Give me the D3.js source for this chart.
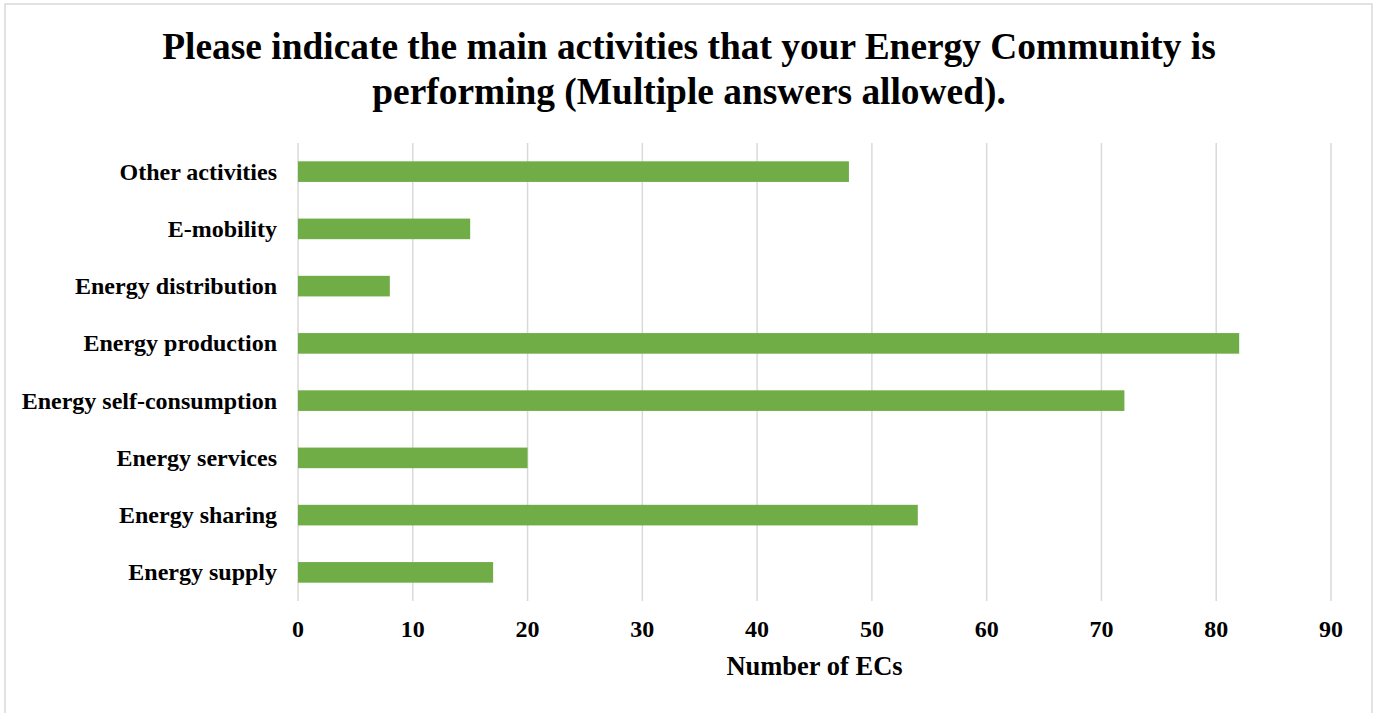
<!DOCTYPE html>
<html>
<head>
<meta charset="utf-8">
<script src="https://cdn.jsdelivr.net/npm/d3@7"></script>
<style>
  html, body { margin: 0; padding: 0; background: #fff; }
  svg { display: block; }
</style>
</head>
<body>
<svg id="chart" width="1375" height="713"></svg>
<script>
const categories = ["Other activities", "E-mobility", "Energy distribution", "Energy production",
  "Energy self-consumption", "Energy services", "Energy sharing", "Energy supply"];
const values = [48, 15, 8, 82, 72, 20, 54, 17];
const xTicks = [0, 10, 20, 30, 40, 50, 60, 70, 80, 90];
const titleLines = ["Please indicate the main activities that your Energy Community is",
  "performing (Multiple answers allowed)."];
const xAxisTitle = "Number of ECs";

(function () {
const svg = d3.select("#chart");
const font = "'Liberation Serif', 'Times New Roman', serif";

// outer border
svg.append("rect").attr("x", 5).attr("y", 4).attr("width", 1367).attr("height", 716)
  .attr("fill", "#fff").attr("stroke", "#d9d9d9").attr("stroke-width", 1.5);

const pLeft = 298, pRight = 1331, pTop = 143, pBottom = 601;
const x = d3.scaleLinear().domain([0, 90]).range([pLeft, pRight]);
const y = d3.scaleBand().domain(categories).range([pTop, pBottom]).paddingInner(0.64).paddingOuter(0.32);

// gridlines
svg.append("g").selectAll("line").data(xTicks).join("line")
  .attr("x1", d => x(d)).attr("x2", d => x(d))
  .attr("y1", pTop).attr("y2", pBottom)
  .attr("stroke", "#d9d9d9").attr("stroke-width", 1.5);

// bars
svg.append("g").selectAll("rect").data(categories).join("rect")
  .attr("x", x(0))
  .attr("y", d => y(d))
  .attr("width", (d, i) => x(values[i]) - x(0))
  .attr("height", y.bandwidth())
  .attr("fill", "#70ad47");

// category labels
svg.append("g").selectAll("text").data(categories).join("text")
  .attr("x", 277)
  .attr("y", d => y(d) + y.bandwidth() / 2 + 8)
  .attr("text-anchor", "end")
  .attr("font-family", font).attr("font-weight", "bold").attr("font-size", 24)
  .attr("fill", "#000")
  .text(d => d);

// tick labels
svg.append("g").selectAll("text").data(xTicks).join("text")
  .attr("x", d => x(d))
  .attr("y", 637)
  .attr("text-anchor", "middle")
  .attr("font-family", font).attr("font-weight", "bold").attr("font-size", 24)
  .attr("fill", "#000")
  .text(d => d);

// axis title
svg.append("text")
  .attr("x", (pLeft + pRight) / 2).attr("y", 675)
  .attr("text-anchor", "middle")
  .attr("font-family", font).attr("font-weight", "bold").attr("font-size", 26.5)
  .attr("fill", "#000")
  .text(xAxisTitle);

// title
svg.append("g").selectAll("text").data(titleLines).join("text")
  .attr("x", 689)
  .attr("y", (d, i) => 59 + i * 45)
  .attr("text-anchor", "middle")
  .attr("font-family", font).attr("font-weight", "bold").attr("font-size", 37.4)
  .attr("fill", "#000")
  .text(d => d);
})();
</script>
</body>
</html>
